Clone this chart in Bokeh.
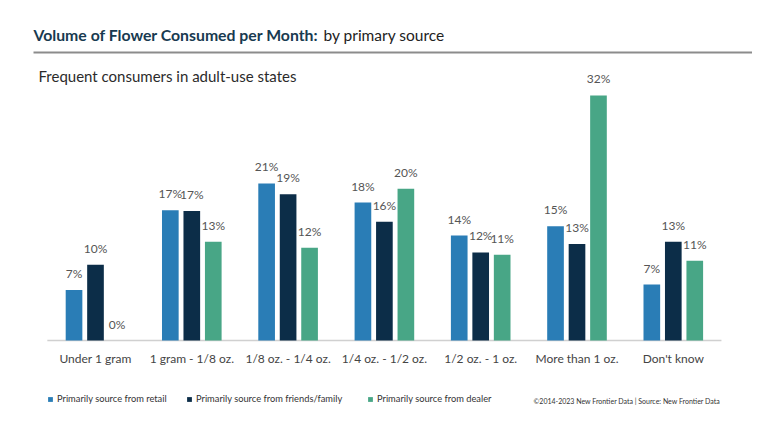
import numpy as np
from bokeh.plotting import figure
from bokeh.models import ColumnDataSource, Range1d, Legend, LegendItem
from bokeh.core.properties import value
from bokeh.embed import file_html
from bokeh.resources import INLINE

# ---------------- data ----------------
categories = ["Under 1 gram", "1 gram - 1/8 oz.", "1/8 oz. - 1/4 oz.", "1/4 oz. - 1/2 oz.",
              "1/2 oz. - 1 oz.", "More than 1 oz.", "Don't know"]
series_names = ["Primarily source from retail", "Primarily source from friends/family",
                "Primarily source from dealer"]
retail = [6.6, 17.0, 20.5, 18.0, 13.7, 14.9, 7.3]
friends = [9.9, 16.9, 19.1, 15.5, 11.5, 12.6, 12.9]
dealer = [0.0, 12.9, 12.1, 19.8, 11.2, 32.0, 10.4]
retail_labels = ["7%", "17%", "21%", "18%", "14%", "15%", "7%"]
friends_labels = ["10%", "17%", "19%", "16%", "12%", "13%", "13%"]
dealer_labels = ["0%", "13%", "12%", "20%", "11%", "32%", "11%"]
title_bold = "Volume of Flower Consumed per Month:"
title_rest = "by primary source"
subtitle = "Frequent consumers in adult-use states"
footer = "\u00a92014-2023  New Frontier Data | Source: New Frontier Data"

# ---------------- style / layout ----------------
colors = ["#2a7db6", "#0c2d48", "#48a686"]
FONT_NAME = "Lato"
FONT = value(FONT_NAME)
W, H = 752, 420
X0, DX = 95.0, 96.3     # pixel centre of first category, pixels per category
Y0, SY = 340.0, 7.66    # pixel baseline (from top), pixels per percent


def xd(px):
    return (px - X0) / DX


def yd(py):
    return (Y0 - py) / SY


p = figure(width=W, height=H, x_range=Range1d(xd(0), xd(W)), y_range=Range1d(yd(H), yd(0)),
           output_backend="svg", toolbar_location=None, min_border=0,
           x_axis_location=None, y_axis_location=None, outline_line_color=None)
p.grid.visible = False
p.background_fill_color = "white"
p.border_fill_color = "white"

idx = np.arange(len(categories))
offsets = [-0.223, 0.0, 0.223]
bar_w = 0.173
all_vals = [retail, friends, dealer]
all_labels = [retail_labels, friends_labels, dealer_labels]

# baseline
p.segment(x0=[-0.5], y0=[0], x1=[len(categories) - 0.5], y1=[0],
          line_color="#d0d0d0", line_width=1.5)

renderers = []
for k in range(3):
    src = ColumnDataSource(dict(x=idx + offsets[k], top=all_vals[k], label=all_labels[k]))
    r = p.vbar(x="x", top="top", bottom=0, width=bar_w, source=src,
               fill_color=colors[k], line_color=None)
    renderers.append(r)
    p.text(x="x", y="top", text="label", source=src, text_align="center",
           text_baseline="bottom", y_offset=-9, text_font=FONT,
           text_font_size="12px", text_color="#555555")

# category labels
p.text(x=idx, y=[0] * len(categories), text=categories, text_align="center",
       text_baseline="middle", y_offset=18, text_font=FONT, text_font_size="12px",
       text_color="#444444")

# title & subtitle
p.text(x=[xd(33)], y=[yd(34)], text=[title_bold], text_baseline="middle",
       text_font=FONT, text_font_style="bold", text_font_size="15.8px", text_color="#183a50")
p.text(x=[xd(323)], y=[yd(34)], text=[title_rest], text_baseline="middle",
       text_font=FONT, text_font_size="15.5px", text_color="#222222")
p.segment(x0=[xd(33)], y0=[yd(52)], x1=[xd(W)], y1=[yd(52)],
          line_color="#8c8c8c", line_width=2)
p.text(x=[xd(38)], y=[yd(75)], text=[subtitle], text_baseline="middle",
       text_font=FONT, text_font_size="15px", text_color="#2b2b2b")

# footer
p.text(x=[xd(533)], y=[yd(400)], text=[footer], text_baseline="middle",
       text_font=FONT, text_font_size="7px", text_color="#333333")

# legends
leg_x = [47, 186, 367]
for k in range(3):
    lg = Legend(items=[LegendItem(label=series_names[k], renderers=[renderers[k]])],
                location=(leg_x[k], 16), orientation="horizontal",
                glyph_width=6, glyph_height=6, label_standoff=4,
                label_text_font=FONT_NAME, label_text_font_size="9.3px",
                label_text_color="#333333", label_height=8,
                padding=0, margin=0, spacing=0,
                border_line_color=None, background_fill_alpha=0)
    p.add_layout(lg)

open("out.html", "w").write(file_html(p, INLINE))
